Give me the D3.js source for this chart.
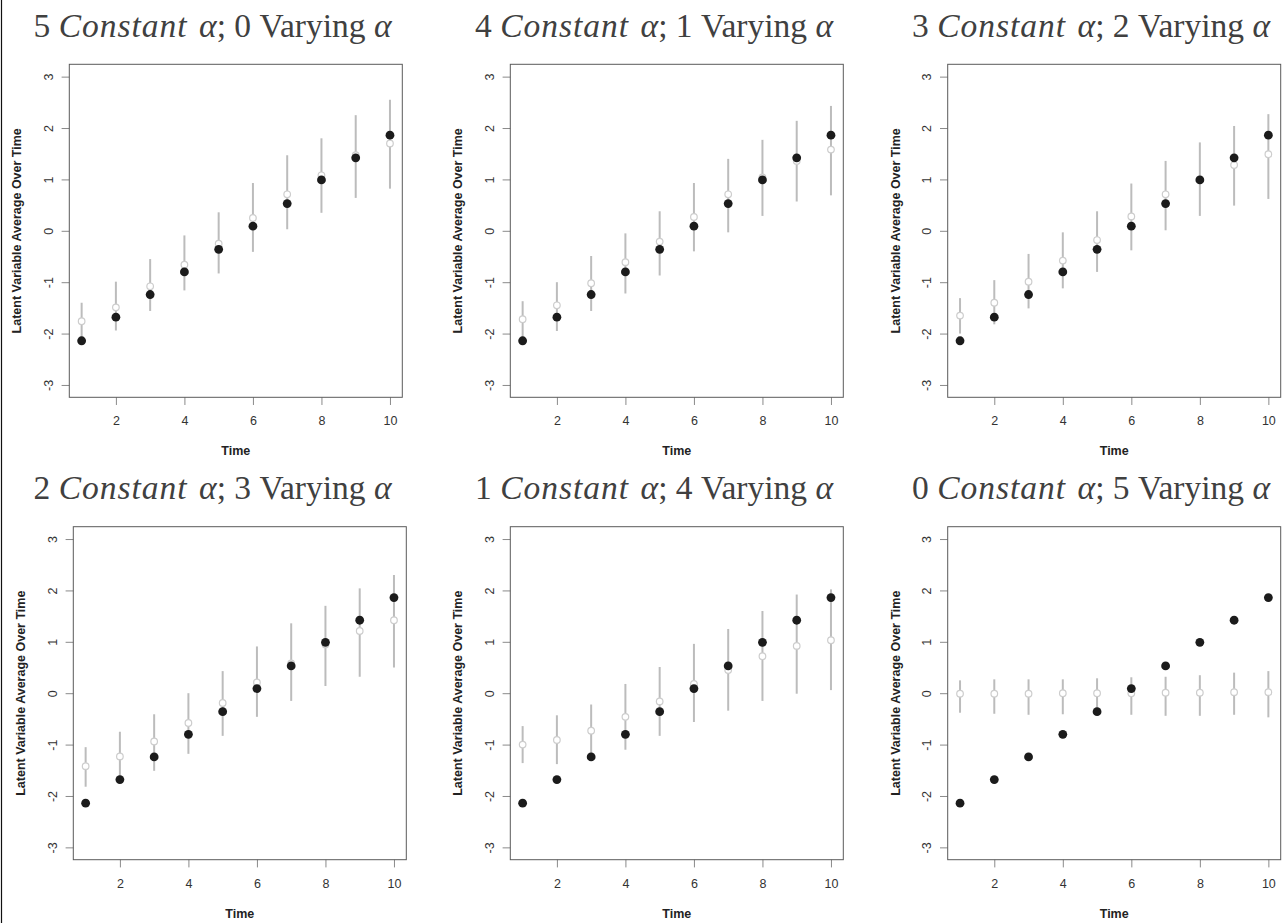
<!DOCTYPE html>
<html>
<head>
<meta charset="utf-8">
<script src="https://cdn.jsdelivr.net/npm/d3@7"></script>
<style>
  body { margin: 0; background: #fff; }
</style>
</head>
<body>
<script>
// time points and the true latent means (same in every panel)
const times = [1, 2, 3, 4, 5, 6, 7, 8, 9, 10];
const trueMean = [-2.14, -1.68, -1.24, -0.80, -0.36, 0.09, 0.53, 0.99, 1.42, 1.86];

// number of constant alphas per panel (varying = 5 - constant)
const constantCounts = [5, 4, 3, 2, 1, 0];
const xTicks = [2, 4, 6, 8, 10];
const yTicks = [-3, -2, -1, 0, 1, 2, 3];

// estimated means and interval ends, one set per panel
const est5 = [-1.76, -1.49, -1.08, -0.66, -0.25, 0.25, 0.71, 1.08, 1.47, 1.70];
const lo5  = [-2.12, -1.94, -1.56, -1.16, -0.83, -0.41, 0.03, 0.35, 0.64, 0.82];
const hi5  = [-1.40, -0.99, -0.55, -0.09, 0.36, 0.93, 1.47, 1.80, 2.25, 2.55];

const est4 = [-1.72, -1.45, -1.02, -0.61, -0.21, 0.27, 0.71, 1.04, 1.36, 1.58];
const lo4  = [-2.08, -1.95, -1.56, -1.22, -0.87, -0.40, -0.03, 0.29, 0.57, 0.69];
const hi4  = [-1.37, -1.00, -0.49, -0.05, 0.38, 0.93, 1.40, 1.77, 2.14, 2.43];

const est3 = [-1.65, -1.40, -0.99, -0.58, -0.18, 0.28, 0.71, 0.99, 1.28, 1.49];
const lo3  = [-2.00, -1.82, -1.51, -1.12, -0.80, -0.38, 0.01, 0.29, 0.49, 0.62];
const hi3  = [-1.31, -0.96, -0.45, -0.03, 0.38, 0.92, 1.36, 1.72, 2.04, 2.27];

const est2 = [-1.42, -1.23, -0.94, -0.58, -0.19, 0.21, 0.58, 0.95, 1.21, 1.42];
const lo2  = [-1.82, -1.71, -1.51, -1.18, -0.83, -0.46, -0.15, 0.14, 0.32, 0.50];
const hi2  = [-1.05, -0.75, -0.41, 0.00, 0.43, 0.91, 1.36, 1.70, 2.04, 2.30];

const est1 = [-1.00, -0.91, -0.73, -0.46, -0.16, 0.18, 0.45, 0.72, 0.92, 1.03];
const lo1  = [-1.36, -1.38, -1.24, -1.10, -0.83, -0.56, -0.34, -0.15, -0.01, 0.06];
const hi1  = [-0.64, -0.43, -0.22, 0.18, 0.51, 0.96, 1.25, 1.60, 1.92, 2.02];

const est0 = [-0.01, -0.01, -0.01, 0.00, 0.00, 0.00, 0.01, 0.01, 0.02, 0.02];
const lo0  = [-0.38, -0.40, -0.42, -0.41, -0.42, -0.42, -0.44, -0.44, -0.42, -0.47];
const hi0  = [0.25, 0.27, 0.27, 0.27, 0.29, 0.31, 0.32, 0.35, 0.40, 0.43];

const estimates = [[est5, lo5, hi5], [est4, lo4, hi4], [est3, lo3, hi3],
                   [est2, lo2, hi2], [est1, lo1, hi1], [est0, lo0, hi0]];

// layout
const WIDTH = 1286, HEIGHT = 923, BOX = 333;
const boxPos = [[69.3, 64.3], [510.3, 64.3], [947.7, 64.3],
                [73.3, 526.7], [510.3, 526.7], [947.7, 526.7]];
const titleCenters = [212.5, 654, 1091];
const titleBaselines = [36.7, 499.3];
const SANS = "'Liberation Sans', Arial, sans-serif";

let svg = d3.select("body").append("svg")
  .attr("width", WIDTH).attr("height", HEIGHT)
  .style("display", "block");

// thin frame line at the far left
svg.append("line")
  .attr("x1", 1.5).attr("x2", 1.5).attr("y1", 0).attr("y2", HEIGHT)
  .attr("stroke", "#111").attr("stroke-width", 1.2);

constantCounts.forEach((c, i) => {
  const [L, T] = boxPos[i];
  const [est, lo, hi] = estimates[i];
  const row = Math.floor(i / 3), col = i % 3;

  const x = d3.scaleLinear().domain([0.64, 10.36]).range([L, L + BOX]);
  const y = d3.scaleLinear().domain([-3.24, 3.24]).range([T + BOX, T]);

  let g = svg.append("g");

  // title
  let title = g.append("text")
    .attr("x", titleCenters[col]).attr("y", titleBaselines[row])
    .attr("text-anchor", "middle")
    .attr("font-family", "'Liberation Serif', 'Times New Roman', serif")
    .attr("font-size", "33.5px")
    .attr("fill", "#404040");
  title.append("tspan").text(c + " ");
  title.append("tspan").attr("font-style", "italic").attr("letter-spacing", "1px").text("Constant");
  title.append("tspan").text(" ");
  title.append("tspan").attr("dx", 3).attr("font-style", "italic").text("\u03B1");
  title.append("tspan").text("; " + (5 - c) + " Varying ");
  title.append("tspan").attr("font-style", "italic").text("\u03B1");

  // axes
  let xAxis = g.append("g")
    .attr("transform", "translate(0," + (T + BOX) + ")")
    .call(d3.axisBottom(x).tickValues(xTicks).tickSize(7.7));
  xAxis.select(".domain").remove();
  xAxis.selectAll("line").attr("stroke", "#8a8a8a");
  xAxis.selectAll("text")
    .attr("y", 19).attr("dy", "0.71em")
    .style("font-family", SANS)
    .style("font-size", "12.5px").attr("fill", "#333");

  let yAxis = g.append("g")
    .attr("transform", "translate(" + L + ",0)")
    .call(d3.axisLeft(y).tickValues(yTicks).tickSize(7.7).tickFormat(d => String(d)));
  yAxis.select(".domain").remove();
  yAxis.selectAll("line").attr("stroke", "#8a8a8a");
  yAxis.selectAll("text")
    .attr("x", null).attr("dy", "0.36em")
    .attr("text-anchor", "middle")
    .attr("transform", "translate(-21,0) rotate(-90)")
    .style("font-family", SANS)
    .style("font-size", "12.5px").attr("fill", "#333");

  // plot box
  g.append("rect")
    .attr("x", L).attr("y", T).attr("width", BOX).attr("height", BOX)
    .attr("fill", "none").attr("stroke", "#5a5a5a").attr("stroke-width", 1);

  // axis titles
  g.append("text")
    .attr("x", L + BOX / 2).attr("y", T + BOX + 58)
    .attr("text-anchor", "middle")
    .style("font-family", SANS)
    .attr("font-weight", "bold").style("font-size", "12.5px").attr("fill", "#222")
    .text("Time");
  g.append("text")
    .attr("transform", "translate(" + (L - 52.5) + "," + (T + BOX / 2) + ") rotate(-90)")
    .attr("dy", "0.36em")
    .attr("text-anchor", "middle")
    .style("font-family", SANS)
    .attr("font-weight", "bold").style("font-size", "12.5px").attr("fill", "#222")
    .text("Latent Variable Average Over Time");

  // interval bars
  g.selectAll(".bar").data(times).enter().append("line")
    .attr("class", "bar")
    .attr("x1", d => x(d)).attr("x2", d => x(d))
    .attr("y1", (d, k) => y(lo[k])).attr("y2", (d, k) => y(hi[k]))
    .attr("stroke", "#bcbcbc").attr("stroke-width", 2);

  // estimated means (open grey circles)
  g.selectAll(".est").data(times).enter().append("circle")
    .attr("class", "est")
    .attr("cx", d => x(d)).attr("cy", (d, k) => y(est[k]))
    .attr("r", 3.3)
    .attr("fill", "#fff").attr("stroke", "#cdcdcd").attr("stroke-width", 1.2);

  // true means (black dots)
  g.selectAll(".truth").data(times).enter().append("circle")
    .attr("class", "truth")
    .attr("cx", d => x(d)).attr("cy", (d, k) => y(trueMean[k]))
    .attr("r", 4.4)
    .attr("fill", "#1b1b1b");
});
</script>
</body>
</html>
